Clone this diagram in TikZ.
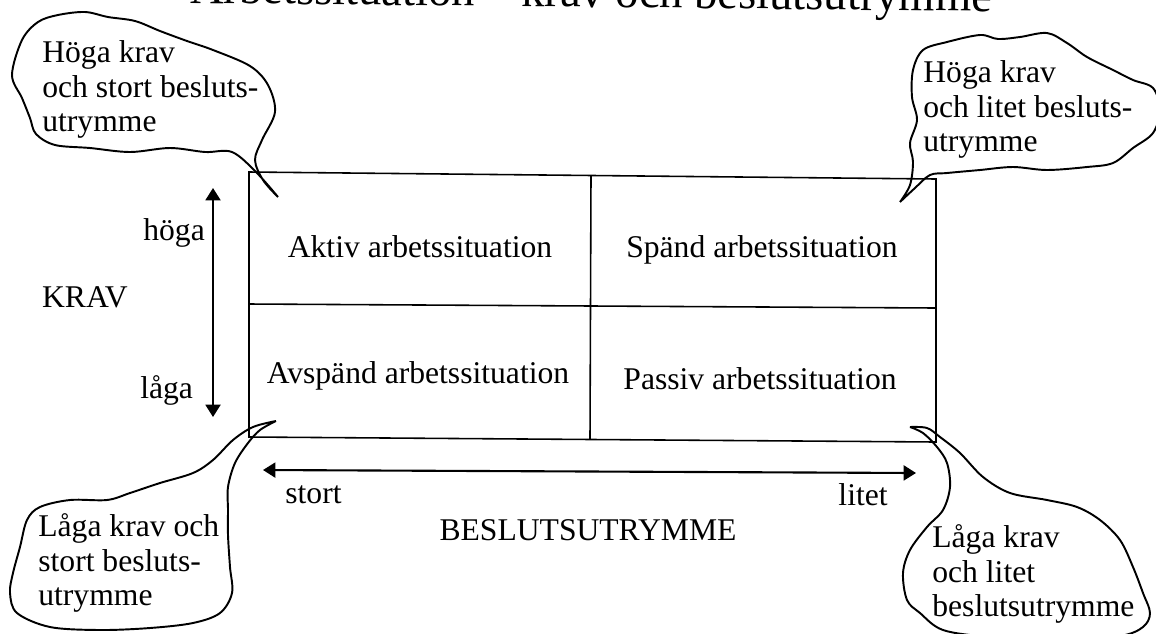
\documentclass[tikz,border=0pt]{standalone}
\usepackage{fontspec}
\setmainfont{Liberation Serif}
\usetikzlibrary{arrows.meta}
\tikzset{
  lbl/.style={font=\fontsize{18}{19.8}\selectfont, inner sep=0pt},
  btext/.style={lbl, align=left, anchor=north west},
  gridline/.style={line width=0.9pt},
  bubble/.style={line width=1.1pt, line join=round},
  arr/.style={line width=1.2pt, {Triangle[length=7pt,width=8.5pt]}-{Triangle[length=7pt,width=8.5pt]}},
}
\begin{document}
\begin{tikzpicture}[x=0.02cm, y=-0.02cm]
\useasboundingbox (0,0) rectangle (1156,633);
\clip (0,0) rectangle (1156,633);
% title (cut off at top)
\node[anchor=base west, rotate=-0.6, font=\fontsize{26.5}{30}\selectfont, inner sep=0pt] (title) at (190,3) {Arbetssituation – krav och beslutsutrymme};
% grid
\coordinate (tl) at (249,172);
\coordinate (tr) at (936,179);
\coordinate (br) at (936,442);
\coordinate (bl) at (249,437);
\coordinate (tm) at (591,175);
\coordinate (bm) at (590,439);
\coordinate (ml) at (249,304);
\coordinate (mr) at (936,308);
\draw[gridline] (tl) -- (tr) -- (br) -- (bl) -- cycle;
\draw[gridline] (tm) -- (bm);
\draw[gridline] (ml) -- (mr);
% quadrant labels
\node[lbl] (aktiv) at (420,247) {Aktiv arbetssituation};
\node[lbl] (spand) at (762,250) {Spänd arbetssituation};
\node[lbl] (avspand) at (418,376) {Avspänd arbetssituation};
\node[lbl] (passiv) at (760,379) {Passiv arbetssituation};
% vertical axis
\coordinate (vtop) at (213,188);
\coordinate (vbot) at (213,417);
\draw[arr] (vtop) -- (vbot);
\node[lbl, anchor=base west] (hoga) at (143,240) {höga};
\node[lbl, anchor=base west] (laga) at (140,398) {låga};
\node[lbl, anchor=base east] (krav) at (128,307) {KRAV};
% horizontal axis
\coordinate (hleft) at (263,470);
\coordinate (hright) at (916,473);
\draw[arr] (hleft) -- (hright);
\node[lbl, anchor=base west] (stort) at (285,503) {stort};
\node[lbl, anchor=base east] (litet) at (888,505) {litet};
\node[lbl, anchor=base] (beslut) at (588,540) {BESLUTSUTRYMME};
% bubbles
\draw[bubble] plot[smooth, tension=0.55] coordinates {(278,197) (263,180) (255,160) (262,140) (275,112) (268,85) (250,66) (213,50) (187,41) (160,31) (135,21) (108,17) (85,12) (58,15) (38,22) (22,40) (12,75) (22,98) (30,118) (36,134) (55,145) (90,148) (130,152) (170,148) (205,152) (232,152) (256,172) (278,197)};
\draw[bubble] plot[smooth, tension=0.55] coordinates {(900,202) (915,188) (930,175) (947,173) (980,170) (1013,167) (1047,170) (1087,167) (1113,163) (1133,148) (1153,133) (1160,110) (1153,88) (1133,80) (1113,70) (1087,57) (1067,43) (1047,33) (1020,37) (998,39) (980,35) (947,42) (923,50) (913,70) (912,97) (917,120) (910,143) (913,162) (910,185) (900,202)};
\draw[bubble] plot[smooth, tension=0.55] coordinates {(276,421) (253,427) (233,440) (213,460) (193,473) (160,483) (130,493) (107,500) (70,500) (40,507) (27,520) (20,547) (13,573) (10,593) (17,613) (50,627) (100,630) (150,628) (193,623) (220,613) (232,593) (230,567) (228,535) (228,510) (228,487) (235,463) (248,443) (260,430) (276,421)};
\draw[bubble] plot[smooth, tension=0.55] coordinates {(910,427) (927,428) (940,437) (960,453) (983,477) (1010,493) (1047,500) (1077,507) (1100,520) (1120,540) (1133,567) (1143,593) (1150,613) (1143,627) (1120,636) (1060,641) (990,637) (943,630) (920,613) (907,600) (903,573) (910,550) (927,527) (943,510) (950,487) (947,463) (937,447) (923,433) (910,427)};
\node[btext] (tltext) at (42,40) {Höga krav\\och stort besluts-\\utrymme};
\node[btext] (trtext) at (923,60) {Höga krav\\och litet besluts-\\utrymme};
\node[btext] (bltext) at (38,513) {Låga krav och\\stort besluts-\\utrymme};
\node[btext] (brtext) at (932,524) {Låga krav\\och litet\\beslutsutrymme};
\end{tikzpicture}
\end{document}
